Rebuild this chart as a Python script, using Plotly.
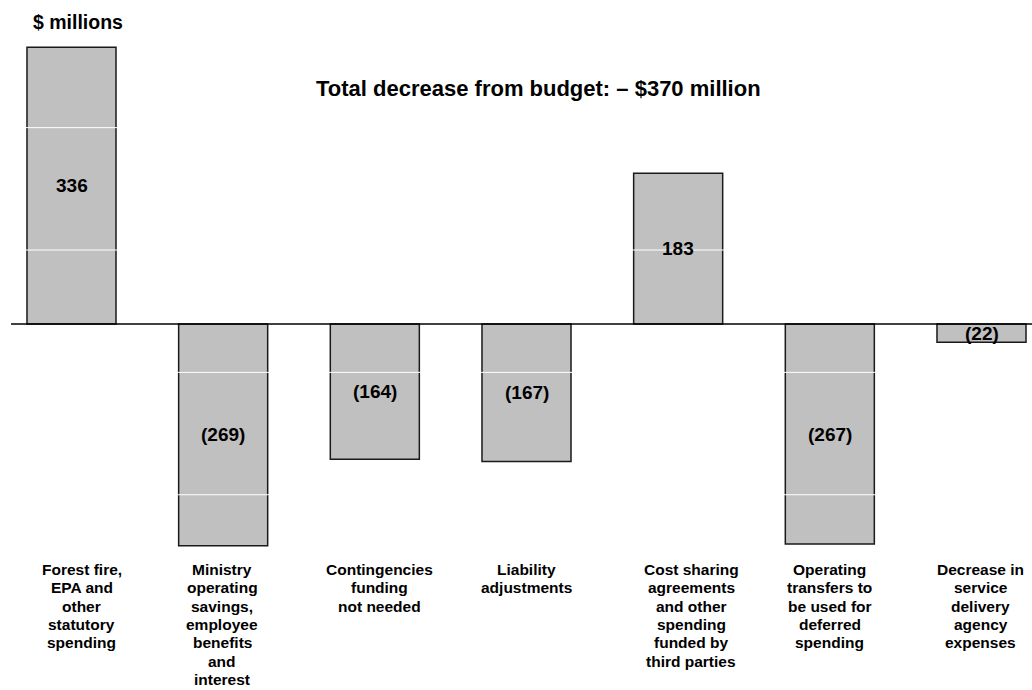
import plotly.graph_objects as go

# Change from budget by driver, $ millions
categories = [
    "Forest fire,<br>EPA and<br>other<br>statutory<br>spending",
    "Ministry<br>operating<br>savings,<br>employee<br>benefits<br>and<br>interest",
    "Contingencies<br>funding<br>not needed",
    "Liability<br>adjustments",
    "Cost sharing<br>agreements<br>and other<br>spending<br>funded by<br>third parties",
    "Operating<br>transfers to<br>be used for<br>deferred<br>spending",
    "Decrease in<br>service<br>delivery<br>agency<br>expenses",
]
values = [336, -269, -164, -167, 183, -267, -22]

# small horizontal nudges (px) for the category text blocks
label_shift = [10, -1, 5, 0, 13, 0, -1]

FONT = "Liberation Sans, Arial, sans-serif"
W, H = 1032, 690
M_TOP, M_BOT = 30, 130
PLOT_H = H - M_TOP - M_BOT
LABEL_TOP, LABEL_STEP = 569.5, 18.3
x = list(range(len(values)))


def fmt(v):
    return f"({abs(v)})" if v < 0 else f"{v}"


def py(pixel_y):
    """Convert a pixel row (from the top of the page) to a paper fraction."""
    return (H - M_BOT - pixel_y) / PLOT_H


fig = go.Figure()
fig.add_trace(go.Bar(
    x=x,
    y=values,
    width=0.587,
    marker=dict(color="#C0C0C0", line=dict(color="#1a1a1a", width=1.5)),
    hoverinfo="skip",
    showlegend=False,
))

# interior gridlines in white, visible only across the grey bars
grid_start, grid_step = 89.8, 148.5
shapes = []
for k in range(-2, 2):
    g = grid_start + k * grid_step
    shapes.append(dict(type="line", xref="paper", yref="y", x0=0, x1=1, y0=g, y1=g,
                       line=dict(color="white", width=1), layer="above"))
# baseline
shapes.append(dict(type="line", xref="paper", yref="y", x0=0.0107, x1=1, y0=0, y1=0,
                   line=dict(color="black", width=1.5), layer="above"))

annotations = []
# value labels, centred in each bar
for xi, v in zip(x, values):
    annotations.append(dict(x=xi, y=v / 2, xref="x", yref="y", text=f"<b>{fmt(v)}</b>",
                            showarrow=False, font=dict(family=FONT, size=19, color="black")))
# category labels below the plot, one line at a time for tight leading
for xi, c, dx in zip(x, categories, label_shift):
    for j, line in enumerate(c.split("<br>")):
        annotations.append(dict(x=xi, y=py(LABEL_TOP + j * LABEL_STEP), xref="x", yref="paper",
                                text=f"<b>{line}</b>", showarrow=False, xshift=dx,
                                xanchor="center", yanchor="middle", borderpad=0,
                                font=dict(family=FONT, size=15.5, color="black")))
annotations.append(dict(x=538.5 / W, y=py(89), xref="paper", yref="paper",
                        text="<b>Total decrease from budget: \u2013 $370 million</b>",
                        showarrow=False, xanchor="center", yanchor="middle",
                        font=dict(family=FONT, size=22, color="black")))
annotations.append(dict(x=31 / W, y=py(22), xref="paper", yref="paper",
                        text="<b>$ millions</b>", showarrow=False,
                        xanchor="left", yanchor="middle",
                        font=dict(family=FONT, size=19.5, color="black")))

fig.update_layout(
    width=W,
    height=H,
    margin=dict(l=0, r=0, t=M_TOP, b=M_BOT),
    paper_bgcolor="white",
    plot_bgcolor="white",
    xaxis=dict(range=[-0.4714, 6.333], visible=False, fixedrange=True),
    yaxis=dict(range=[-286.4, 356.8], visible=False, fixedrange=True),
    shapes=shapes,
    annotations=annotations,
)

fig.write_html("out.html")
